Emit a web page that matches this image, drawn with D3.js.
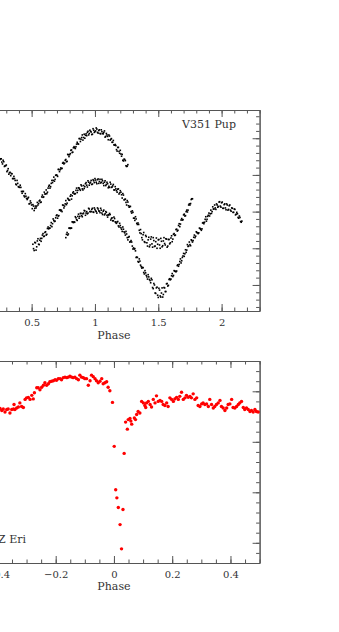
<!DOCTYPE html>
<html>
<head>
<meta charset="utf-8">
<title>V351 Pup and Z Eri light curves</title>
<script src="https://cdn.jsdelivr.net/npm/d3@7"></script>
<style>
  body { margin: 0; background: #fff; }
  svg { display: block; }
  .axis path, .axis line { stroke: #555; }
  .axis text { font-family: "DejaVu Serif", serif; font-size: 10px; fill: #333; }
  .label { font-family: "DejaVu Serif", serif; font-size: 11px; fill: #333; }
</style>
</head>
<body>
<div id="chart"></div>
<script>
// Tick labels
const pupTicks = [0, 0.5, 1, 1.5, 2];
const eriTicks = [-0.4, -0.2, 0, 0.2, 0.4];

// V351 Pup: three light curves, [phase, mag]; the "2" arrays are the interleaved second set of observations
const pupA = [[0.23,1.041],[0.24,1.052],[0.25,1.058],[0.26,1.056],[0.27,1.070],[0.28,1.064],[0.29,1.075],[0.30,1.073],[0.31,1.088],[0.32,1.098],[0.33,1.093],[0.34,1.096],[0.35,1.110],[0.36,1.104],[0.37,1.115],[0.38,1.127],[0.39,1.123],[0.40,1.133],[0.41,1.128],[0.42,1.145],[0.43,1.145],[0.44,1.157],[0.45,1.151],[0.46,1.164],[0.47,1.164],[0.48,1.179],[0.49,1.171],[0.50,1.182],[0.51,1.181],[0.52,1.197],[0.53,1.185],[0.54,1.185],[0.55,1.182],[0.56,1.171],[0.57,1.175],[0.58,1.160],[0.59,1.161],[0.60,1.147],[0.61,1.152],[0.62,1.151],[0.63,1.136],[0.64,1.128],[0.65,1.132],[0.66,1.115],[0.67,1.115],[0.68,1.117],[0.69,1.101],[0.70,1.101],[0.71,1.085],[0.72,1.091],[0.73,1.081],[0.74,1.082],[0.75,1.066],[0.76,1.068],[0.77,1.058],[0.78,1.063],[0.79,1.045],[0.80,1.045],[0.81,1.033],[0.82,1.039],[0.83,1.026],[0.84,1.026],[0.85,1.023],[0.86,1.011],[0.87,1.016],[0.88,1.001],[0.89,1.003],[0.90,0.991],[0.91,0.998],[0.92,1.000],[0.93,0.988],[0.94,0.984],[0.95,0.991],[0.96,0.978],[0.97,0.983],[0.98,0.989],[0.99,0.978],[1.00,0.982],[1.01,0.972],[1.02,0.984],[1.03,0.979],[1.04,0.987],[1.05,0.977],[1.06,0.987],[1.07,0.984],[1.08,0.997],[1.09,0.987],[1.10,0.995],[1.11,0.991],[1.12,1.005],[1.13,1.001],[1.14,1.011],[1.15,1.018],[1.16,1.017],[1.17,1.031],[1.18,1.025],[1.19,1.036],[1.20,1.033],[1.21,1.049],[1.22,1.060],[1.23,1.057],[1.24,1.061],[1.25,1.077],[1.26,1.072]];
const pupA2 = [[0.235,1.042],[0.245,1.057],[0.255,1.056],[0.265,1.065],[0.275,1.060],[0.285,1.077],[0.295,1.075],[0.305,1.091],[0.315,1.083],[0.325,1.094],[0.335,1.102],[0.345,1.097],[0.355,1.110],[0.365,1.110],[0.375,1.125],[0.385,1.115],[0.395,1.132],[0.405,1.134],[0.415,1.134],[0.425,1.150],[0.435,1.145],[0.445,1.160],[0.455,1.158],[0.465,1.167],[0.475,1.161],[0.485,1.178],[0.495,1.176],[0.505,1.192],[0.515,1.185],[0.525,1.191],[0.535,1.190],[0.545,1.175],[0.555,1.178],[0.565,1.169],[0.575,1.174],[0.585,1.155],[0.595,1.160],[0.605,1.152],[0.615,1.141],[0.625,1.147],[0.635,1.131],[0.645,1.136],[0.655,1.123],[0.665,1.121],[0.675,1.106],[0.685,1.112],[0.695,1.100],[0.705,1.104],[0.715,1.085],[0.725,1.086],[0.735,1.083],[0.745,1.068],[0.755,1.070],[0.765,1.060],[0.775,1.064],[0.785,1.044],[0.795,1.050],[0.805,1.042],[0.815,1.032],[0.825,1.038],[0.835,1.023],[0.845,1.028],[0.855,1.016],[0.865,1.015],[0.875,1.001],[0.885,1.009],[0.895,0.998],[0.905,1.005],[0.915,0.989],[0.925,0.992],[0.935,0.993],[0.945,0.981],[0.955,0.987],[0.965,0.981],[0.975,0.990],[0.985,0.974],[0.995,0.984],[1.005,0.980],[1.015,0.975],[1.025,0.986],[1.035,0.977],[1.045,0.988],[1.055,0.982],[1.065,0.988],[1.075,0.980],[1.085,0.995],[1.095,0.991],[1.105,1.004],[1.115,0.994],[1.125,1.003],[1.135,1.011],[1.145,1.006],[1.155,1.019],[1.165,1.020],[1.175,1.035],[1.185,1.025],[1.195,1.041],[1.205,1.043],[1.215,1.044],[1.225,1.062],[1.235,1.058],[1.245,1.075],[1.255,1.076]];

const pupB = [[0.51,1.289],[0.52,1.306],[0.53,1.285],[0.54,1.296],[0.55,1.274],[0.56,1.290],[0.57,1.273],[0.58,1.273],[0.59,1.260],[0.60,1.267],[0.61,1.255],[0.62,1.262],[0.63,1.242],[0.64,1.245],[0.65,1.238],[0.66,1.241],[0.67,1.220],[0.68,1.227],[0.69,1.217],[0.70,1.209],[0.71,1.212],[0.72,1.196],[0.73,1.198],[0.74,1.200],[0.75,1.183],[0.76,1.185],[0.77,1.170],[0.78,1.177],[0.79,1.166],[0.80,1.169],[0.81,1.154],[0.82,1.157],[0.83,1.146],[0.84,1.152],[0.85,1.142],[0.86,1.148],[0.87,1.135],[0.88,1.139],[0.89,1.127],[0.90,1.138],[0.91,1.129],[0.92,1.132],[0.93,1.121],[0.94,1.133],[0.95,1.120],[0.96,1.123],[0.97,1.115],[0.98,1.125],[0.99,1.116],[1.00,1.110],[1.01,1.120],[1.02,1.113],[1.03,1.123],[1.04,1.112],[1.05,1.120],[1.06,1.116],[1.07,1.129],[1.08,1.116],[1.09,1.126],[1.10,1.124],[1.11,1.131],[1.12,1.120],[1.13,1.134],[1.14,1.130],[1.15,1.141],[1.16,1.132],[1.17,1.143],[1.18,1.139],[1.19,1.152],[1.20,1.143],[1.21,1.154],[1.22,1.151],[1.23,1.168],[1.24,1.166],[1.25,1.182],[1.26,1.174],[1.27,1.188],[1.28,1.186],[1.29,1.204],[1.30,1.202],[1.31,1.218],[1.32,1.214],[1.33,1.232],[1.34,1.231],[1.35,1.251],[1.36,1.249],[1.37,1.271],[1.38,1.263],[1.39,1.282],[1.40,1.265],[1.41,1.285],[1.42,1.277],[1.43,1.296],[1.44,1.275],[1.45,1.288],[1.46,1.271],[1.47,1.295],[1.48,1.282],[1.49,1.300],[1.50,1.277],[1.51,1.291],[1.52,1.273],[1.53,1.296],[1.54,1.280],[1.55,1.287],[1.56,1.274],[1.57,1.297],[1.58,1.276],[1.59,1.288],[1.60,1.272],[1.61,1.282],[1.62,1.262],[1.63,1.265],[1.64,1.249],[1.65,1.253],[1.66,1.238],[1.67,1.241],[1.68,1.223],[1.69,1.223],[1.70,1.209],[1.71,1.212],[1.72,1.200],[1.73,1.201],[1.74,1.182],[1.75,1.182],[1.76,1.167],[1.77,1.165]];
const pupB2 = [[0.515,1.301],[0.525,1.284],[0.535,1.305],[0.545,1.280],[0.555,1.289],[0.565,1.278],[0.575,1.281],[0.585,1.264],[0.595,1.268],[0.605,1.257],[0.615,1.264],[0.625,1.246],[0.635,1.247],[0.645,1.245],[0.655,1.230],[0.665,1.233],[0.675,1.224],[0.685,1.226],[0.695,1.211],[0.705,1.218],[0.715,1.211],[0.725,1.195],[0.735,1.196],[0.745,1.182],[0.755,1.190],[0.765,1.179],[0.775,1.181],[0.785,1.164],[0.795,1.169],[0.805,1.158],[0.815,1.166],[0.825,1.149],[0.835,1.151],[0.845,1.151],[0.855,1.136],[0.865,1.142],[0.875,1.136],[0.885,1.142],[0.895,1.130],[0.905,1.141],[0.915,1.137],[0.925,1.124],[0.935,1.128],[0.945,1.116],[0.955,1.128],[0.965,1.120],[0.975,1.126],[0.985,1.113],[0.995,1.121],[1.005,1.114],[1.015,1.124],[1.025,1.111],[1.035,1.118],[1.045,1.122],[1.055,1.112],[1.065,1.123],[1.075,1.120],[1.085,1.129],[1.095,1.120],[1.105,1.135],[1.115,1.134],[1.125,1.125],[1.135,1.133],[1.145,1.126],[1.155,1.141],[1.165,1.138],[1.175,1.147],[1.185,1.138],[1.195,1.149],[1.205,1.147],[1.215,1.163],[1.225,1.155],[1.235,1.167],[1.245,1.175],[1.255,1.170],[1.265,1.184],[1.275,1.186],[1.285,1.200],[1.295,1.198],[1.305,1.218],[1.315,1.224],[1.325,1.220],[1.335,1.235],[1.345,1.235],[1.355,1.258],[1.365,1.260],[1.375,1.277],[1.385,1.257],[1.395,1.284],[1.405,1.268],[1.415,1.294],[1.425,1.270],[1.435,1.291],[1.445,1.269],[1.455,1.297],[1.465,1.279],[1.475,1.294],[1.485,1.272],[1.495,1.289],[1.505,1.276],[1.515,1.300],[1.525,1.281],[1.535,1.293],[1.545,1.271],[1.555,1.291],[1.565,1.275],[1.575,1.294],[1.585,1.276],[1.595,1.285],[1.605,1.266],[1.615,1.275],[1.625,1.260],[1.635,1.264],[1.645,1.248],[1.655,1.251],[1.665,1.233],[1.675,1.234],[1.685,1.219],[1.695,1.222],[1.705,1.207],[1.715,1.211],[1.725,1.196],[1.735,1.196],[1.745,1.179],[1.755,1.178],[1.765,1.165]];

const pupC = [[0.77,1.271],[0.78,1.257],[0.79,1.261],[0.80,1.245],[0.81,1.245],[0.82,1.228],[0.83,1.230],[0.84,1.229],[0.85,1.217],[0.86,1.224],[0.87,1.207],[0.88,1.213],[0.89,1.205],[0.90,1.214],[0.91,1.204],[0.92,1.198],[0.93,1.204],[0.94,1.206],[0.95,1.191],[0.96,1.200],[0.97,1.200],[0.98,1.191],[0.99,1.202],[1.00,1.194],[1.01,1.200],[1.02,1.190],[1.03,1.198],[1.04,1.203],[1.05,1.196],[1.06,1.208],[1.07,1.196],[1.08,1.206],[1.09,1.202],[1.10,1.215],[1.11,1.209],[1.12,1.208],[1.13,1.219],[1.14,1.225],[1.15,1.215],[1.16,1.228],[1.17,1.232],[1.18,1.227],[1.19,1.242],[1.20,1.238],[1.21,1.248],[1.22,1.242],[1.23,1.255],[1.24,1.264],[1.25,1.261],[1.26,1.277],[1.27,1.268],[1.28,1.282],[1.29,1.283],[1.30,1.302],[1.31,1.302],[1.32,1.307],[1.33,1.324],[1.34,1.336],[1.35,1.329],[1.36,1.346],[1.37,1.354],[1.38,1.353],[1.39,1.370],[1.40,1.367],[1.41,1.378],[1.42,1.372],[1.43,1.385],[1.44,1.394],[1.45,1.386],[1.46,1.410],[1.47,1.400],[1.48,1.423],[1.49,1.406],[1.50,1.434],[1.51,1.414],[1.52,1.433],[1.53,1.408],[1.54,1.426],[1.55,1.408],[1.56,1.418],[1.57,1.396],[1.58,1.401],[1.59,1.383],[1.60,1.384],[1.61,1.369],[1.62,1.374],[1.63,1.362],[1.64,1.364],[1.65,1.347],[1.66,1.349],[1.67,1.336],[1.68,1.340],[1.69,1.325],[1.70,1.314],[1.71,1.315],[1.72,1.311],[1.73,1.290],[1.74,1.294],[1.75,1.290],[1.76,1.277],[1.77,1.283],[1.78,1.270],[1.79,1.271],[1.80,1.255],[1.81,1.258],[1.82,1.258],[1.83,1.246],[1.84,1.251],[1.85,1.231],[1.86,1.233],[1.87,1.221],[1.88,1.226],[1.89,1.213],[1.90,1.204],[1.91,1.206],[1.92,1.205],[1.93,1.187],[1.94,1.193],[1.95,1.190],[1.96,1.179],[1.97,1.188],[1.98,1.174],[1.99,1.185],[2.00,1.176],[2.01,1.191],[2.02,1.181],[2.03,1.190],[2.04,1.179],[2.05,1.196],[2.06,1.184],[2.07,1.196],[2.08,1.190],[2.09,1.202],[2.10,1.193],[2.11,1.209],[2.12,1.202],[2.13,1.216],[2.14,1.212],[2.15,1.227],[2.16,1.226]];
const pupC2 = [[0.775,1.262],[0.785,1.264],[0.795,1.245],[0.805,1.246],[0.815,1.245],[0.825,1.228],[0.835,1.228],[0.845,1.214],[0.855,1.222],[0.865,1.213],[0.875,1.218],[0.885,1.205],[0.895,1.211],[0.905,1.206],[0.915,1.197],[0.925,1.210],[0.935,1.200],[0.945,1.204],[0.955,1.193],[0.965,1.200],[0.975,1.194],[0.985,1.201],[0.995,1.190],[1.005,1.198],[1.015,1.204],[1.025,1.193],[1.035,1.199],[1.045,1.191],[1.055,1.204],[1.065,1.199],[1.075,1.209],[1.085,1.200],[1.095,1.210],[1.105,1.209],[1.115,1.205],[1.125,1.223],[1.135,1.217],[1.145,1.225],[1.155,1.219],[1.165,1.230],[1.175,1.228],[1.185,1.239],[1.195,1.232],[1.205,1.244],[1.215,1.254],[1.225,1.248],[1.235,1.258],[1.245,1.254],[1.255,1.271],[1.265,1.270],[1.275,1.283],[1.285,1.279],[1.295,1.294],[1.305,1.299],[1.315,1.301],[1.325,1.325],[1.335,1.325],[1.345,1.338],[1.355,1.335],[1.365,1.350],[1.375,1.352],[1.385,1.366],[1.395,1.361],[1.405,1.374],[1.415,1.384],[1.425,1.378],[1.435,1.388],[1.445,1.382],[1.455,1.407],[1.465,1.396],[1.475,1.422],[1.485,1.408],[1.495,1.428],[1.505,1.409],[1.515,1.430],[1.525,1.422],[1.535,1.433],[1.545,1.407],[1.555,1.418],[1.565,1.397],[1.575,1.403],[1.585,1.385],[1.595,1.386],[1.605,1.375],[1.615,1.377],[1.625,1.361],[1.635,1.363],[1.645,1.362],[1.655,1.345],[1.665,1.344],[1.675,1.329],[1.685,1.334],[1.695,1.321],[1.705,1.322],[1.715,1.304],[1.725,1.305],[1.735,1.295],[1.745,1.283],[1.755,1.293],[1.765,1.279],[1.775,1.279],[1.785,1.264],[1.795,1.267],[1.805,1.257],[1.815,1.260],[1.825,1.245],[1.835,1.248],[1.845,1.247],[1.855,1.230],[1.865,1.229],[1.875,1.214],[1.885,1.221],[1.895,1.210],[1.905,1.212],[1.915,1.196],[1.925,1.200],[1.935,1.193],[1.945,1.182],[1.955,1.194],[1.965,1.182],[1.975,1.186],[1.985,1.173],[1.995,1.188],[2.005,1.174],[2.015,1.191],[2.025,1.179],[2.035,1.195],[2.045,1.182],[2.055,1.194],[2.065,1.182],[2.075,1.199],[2.085,1.191],[2.095,1.202],[2.105,1.194],[2.115,1.207],[2.125,1.206],[2.135,1.218],[2.145,1.216],[2.155,1.229]];

// Z Eri light curve, [phase, mag]
const zEri = [[-0.403,0.033],[-0.397,0.037],[-0.391,0.034],[-0.385,0.038],[-0.380,0.035],[-0.374,0.041],[-0.368,0.036],[-0.363,0.035],[-0.357,0.043],[-0.351,0.036],[-0.345,0.035],[-0.343,0.026],[-0.340,0.036],[-0.334,0.033],[-0.328,0.031],[-0.323,0.023],[-0.317,0.030],[-0.311,0.032],[-0.305,0.016],[-0.300,0.013],[-0.294,0.012],[-0.288,0.016],[-0.282,0.008],[-0.277,0.015],[-0.273,0.003],[-0.265,-0.007],[-0.260,-0.007],[-0.254,-0.003],[-0.248,-0.008],[-0.242,-0.012],[-0.237,-0.017],[-0.231,-0.012],[-0.225,-0.015],[-0.220,-0.019],[-0.214,-0.020],[-0.208,-0.021],[-0.202,-0.023],[-0.197,-0.022],[-0.191,-0.025],[-0.185,-0.025],[-0.180,-0.023],[-0.174,-0.027],[-0.168,-0.028],[-0.162,-0.027],[-0.157,-0.028],[-0.151,-0.030],[-0.145,-0.028],[-0.140,-0.027],[-0.134,-0.028],[-0.128,-0.025],[-0.122,-0.023],[-0.117,-0.032],[-0.111,-0.028],[-0.105,-0.027],[-0.100,-0.025],[-0.094,-0.025],[-0.088,-0.012],[-0.082,-0.021],[-0.077,-0.032],[-0.071,-0.029],[-0.065,-0.025],[-0.060,-0.021],[-0.054,-0.017],[-0.048,-0.020],[-0.042,-0.025],[-0.037,-0.015],[-0.031,-0.017],[-0.025,-0.019],[-0.020,-0.008],[-0.014,-0.001],[-0.005,0.022],
  [0.001,0.109],[0.006,0.195],[0.010,0.211],[0.015,0.230],[0.021,0.264],[0.026,0.312],[0.031,0.234],[0.035,0.123],[0.040,0.061],[0.046,0.075],[0.049,0.056],[0.055,0.054],[0.058,0.059],[0.061,0.065],[0.070,0.053],[0.074,0.056],[0.078,0.046],[0.083,0.040],[0.089,0.043],
  [0.095,0.020],[0.101,0.023],[0.106,0.028],[0.109,0.032],[0.112,0.023],[0.118,0.020],[0.124,0.026],[0.129,0.031],[0.135,0.016],[0.141,0.023],[0.146,0.009],[0.152,0.020],[0.158,0.018],[0.164,0.020],[0.169,0.026],[0.175,0.028],[0.181,0.023],[0.186,0.030],
  [0.192,0.013],[0.198,0.016],[0.204,0.020],[0.209,0.015],[0.215,0.012],[0.221,0.016],[0.226,0.010],[0.232,0.002],[0.238,0.016],[0.244,0.013],[0.249,0.008],[0.255,0.012],[0.261,0.010],[0.266,0.013],[0.272,0.005],[0.278,0.016],[0.284,0.013],[0.289,0.028],[0.295,0.030],[0.301,0.025],[0.306,0.023],[0.312,0.026],[0.318,0.025],[0.324,0.030],[0.329,0.016],[0.335,0.026],[0.341,0.033],[0.346,0.030],[0.352,0.026],[0.358,0.023],[0.364,0.018],[0.369,0.030],[0.375,0.033],[0.381,0.038],[0.387,0.033],[0.392,0.026],[0.398,0.025],[0.404,0.016],[0.409,0.032],[0.415,0.033],[0.421,0.030],[0.427,0.026],[0.432,0.023],[0.438,0.020],[0.444,0.032],[0.449,0.036],[0.455,0.033],[0.461,0.036],[0.467,0.040],[0.472,0.038],[0.478,0.041],[0.484,0.036],[0.489,0.040],[0.495,0.041]];

// Page and plot frame (the figure's left part lies outside the window)
const width = 339, height = 632;
const plotLeft = -31.7, plotRight = 259.6;

const svg = d3.select("#chart")
    .append("svg")
    .attr("width", width)
    .attr("height", height);

// Scales
const xPup = d3.scaleLinear().domain([0, 2.3]).range([plotLeft, plotRight]);
const yPup = d3.scaleLinear().domain([0.923, 1.471]).range([110, 311]);
const xEri = d3.scaleLinear().domain([-0.5, 0.5]).range([plotLeft, plotRight]);
const yEri = d3.scaleLinear().domain([-0.06, 0.34]).range([361, 563]);

// Box with inward ticks on all four sides, labels only on the bottom
function drawFrame(x, y, xMajor, xMinor, yMajor, yMinor) {
    const [x0, x1] = x.range();
    const [y0, y1] = y.range();
    const major = 7, minor = 3.5;

    const sides = [
        {axis: d3.axisBottom, scale: x, at: `translate(0,${y1})`, maj: xMajor, min: xMinor, labels: true},
        {axis: d3.axisTop, scale: x, at: `translate(0,${y0})`, maj: xMajor, min: xMinor},
        {axis: d3.axisRight, scale: y, at: `translate(${x1},0)`, maj: yMajor, min: yMinor},
        {axis: d3.axisLeft, scale: y, at: `translate(${x0},0)`, maj: yMajor, min: yMinor}
    ];

    sides.forEach(s => {
        svg.append("g")
            .attr("class", "axis")
            .attr("transform", s.at)
            .call(s.axis(s.scale).tickValues(s.min).tickSizeInner(-minor).tickSizeOuter(0).tickFormat(""));
        svg.append("g")
            .attr("class", "axis")
            .attr("transform", s.at)
            .call(s.axis(s.scale).tickValues(s.maj).tickSizeInner(-major).tickSizeOuter(0)
                .tickPadding(8).tickFormat(s.labels ? d3.format("~g") : ""));
    });
}

drawFrame(xPup, yPup, pupTicks,
    d3.range(0, 2.301, 0.1),
    [1.0, 1.1, 1.2, 1.3, 1.4],
    d3.range(0.94, 1.47, 0.02));

drawFrame(xEri, yEri, eriTicks,
    d3.range(-0.5, 0.501, 0.05),
    [0, 0.1, 0.2, 0.3],
    d3.range(-0.04, 0.341, 0.02));

// Axis titles and star names
svg.append("text").attr("class", "label")
    .attr("x", (plotLeft + plotRight) / 2).attr("y", 339)
    .attr("text-anchor", "middle").text("Phase");
svg.append("text").attr("class", "label")
    .attr("x", (plotLeft + plotRight) / 2).attr("y", 590)
    .attr("text-anchor", "middle").text("Phase");
svg.append("text").attr("class", "label")
    .attr("x", 182).attr("y", 128).text("V351 Pup");
svg.append("text").attr("class", "label")
    .attr("x", -2).attr("y", 543).text("Z Eri");

// V351 Pup points
[pupA, pupA2, pupB, pupB2, pupC, pupC2].forEach(curve => {
    svg.append("g")
        .selectAll("rect")
        .data(curve)
        .enter()
        .append("rect")
        .attr("x", d => xPup(d[0]) - 0.8)
        .attr("y", d => yPup(d[1]) - 0.8)
        .attr("width", 1.6)
        .attr("height", 1.6)
        .attr("fill", "#000");
});

// Z Eri points
svg.append("g")
    .selectAll("circle")
    .data(zEri)
    .enter()
    .append("circle")
    .attr("cx", d => xEri(d[0]))
    .attr("cy", d => yEri(d[1]))
    .attr("r", 1.7)
    .attr("fill", "#ff0000");
</script>
</body>
</html>
